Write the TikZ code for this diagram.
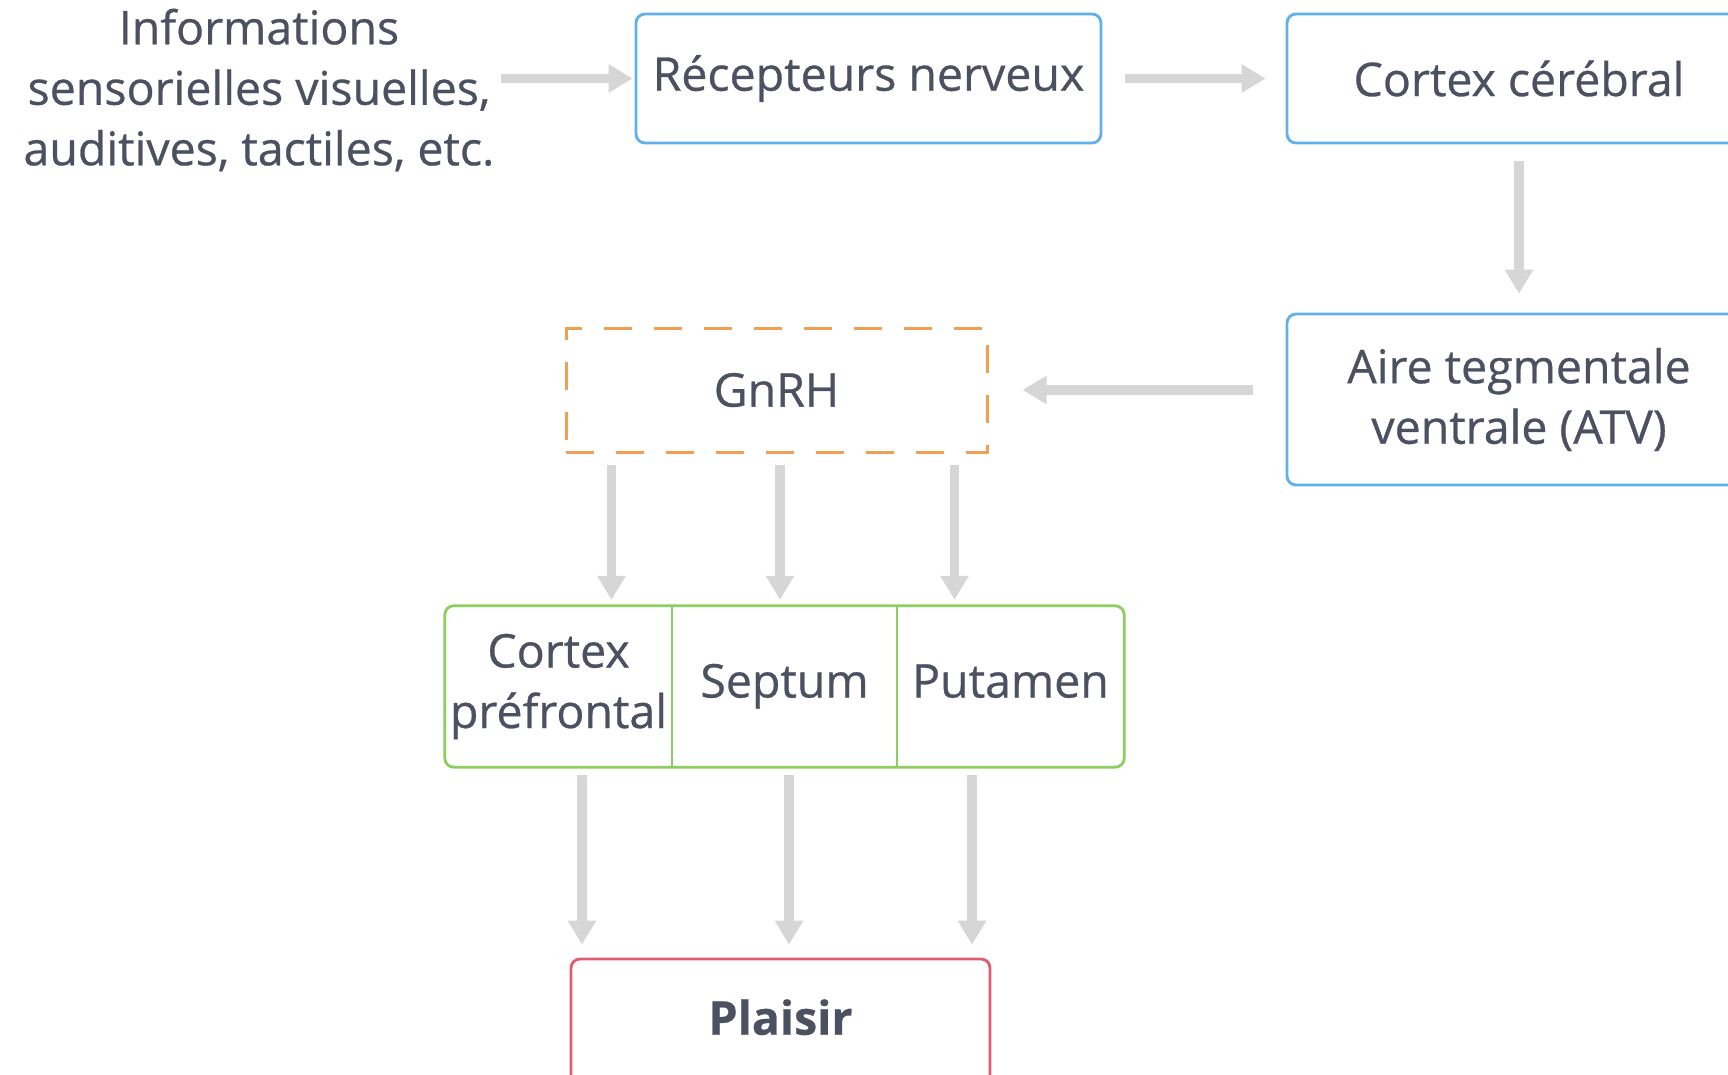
\documentclass[tikz,border=0pt]{standalone}
\usepackage{fontspec}
\setmainfont{Open Sans}[Ligatures=NoCommon, FakeBold=0.6]
\usetikzlibrary{arrows.meta}

\definecolor{inkgray}{RGB}{76,81,98}
\definecolor{arrowgray}{RGB}{214,214,214}
\definecolor{boxblue}{RGB}{96,176,236}
\definecolor{boxorange}{RGB}{240,160,84}
\definecolor{boxgreen}{RGB}{140,206,96}
\definecolor{boxred}{RGB}{222,92,112}

\begin{document}
\begin{tikzpicture}[
    x=1pt, y=1pt, yscale=-1, xscale=1,
    every node/.style={font=\fontsize{46.5}{60.5}\selectfont, text=inkgray, inner sep=0pt, align=center},
    stagebox/.style={draw, line width=2.8pt, rounded corners=9pt},
    flow/.style={draw=arrowgray, line width=9.5pt, -{Triangle[width=27pt,length=24pt]}}
]
\useasboundingbox (0,0) rectangle (1728,1075);

%==================== Top row ====================
\node (info) at (259,90) {Informations\\sensorielles visuelles,\\auditives, tactiles, etc.};
\node[stagebox, draw=boxblue, minimum width=465, minimum height=129] (recep) at (868.5,78.5) {R\'ecepteurs nerveux};
\node[stagebox, draw=boxblue, minimum width=464, minimum height=129] (cortex) at (1519,78.5) {Cortex c\'er\'ebral};

%==================== ATV and GnRH ====================
\node[stagebox, draw=boxblue, minimum width=464, minimum height=171] (atv) at (1519,399.5) {Aire tegmentale\\ventrale (ATV)};
\node[draw=boxorange, line width=3pt, dash pattern=on 28pt off 22pt, minimum width=421, minimum height=124] (gnrh) at (776.5,390) {GnRH};

%==================== Target areas ====================
\node[minimum width=227, minimum height=161] (pfc) at (558.5,686.5) {Cortex\\pr\'efrontal};
\node[minimum width=225, minimum height=161, text height=33pt, text depth=11pt] (septum) at (784.5,686.5) {Septum};
\node[minimum width=227, minimum height=161, text height=33pt, text depth=11pt] (putamen) at (1010.5,686.5) {Putamen};
\draw[boxgreen, line width=2.8pt, rounded corners=9pt] (pfc.north west) rectangle (putamen.south east);
\draw[boxgreen, line width=2pt] (pfc.north east) -- (pfc.south east);
\draw[boxgreen, line width=2pt] (septum.north east) -- (septum.south east);

%==================== Plaisir ====================
\node[stagebox, draw=boxred, minimum width=419, minimum height=130, font=\fontsize{46.5}{60}\selectfont\bfseries] (plaisir) at (780.5,1024) {\raisebox{14pt}{Plaisir}};

%==================== Arrows ====================
\draw[flow, shorten <=6pt, shorten >=2pt] (info.east |- recep.west) -- (recep.west);
\draw[flow, shorten <=23pt, shorten >=20pt] (recep.east) -- (cortex.west);
\draw[flow, shorten <=17pt, shorten >=19pt] (cortex.south) -- (atv.north);
\draw[flow, shorten <=33pt, shorten >=34pt] (atv.west |- gnrh.east) -- (gnrh.east);

\draw[flow, shorten <=11pt, shorten >=6pt] ([xshift=47pt]gnrh.south west) -- ([xshift=47pt]gnrh.south west |- pfc.north);
\draw[flow, shorten <=11pt, shorten >=6pt] ([xshift=3.5pt]gnrh.south) -- ([xshift=3.5pt]gnrh.south |- septum.north);
\draw[flow, shorten <=11pt, shorten >=6pt] ([xshift=-34pt]gnrh.south east) -- ([xshift=-34pt]gnrh.south east |- putamen.north);

\draw[flow, shorten <=8pt, shorten >=13pt] ([xshift=23.5pt]pfc.south) -- ([xshift=23.5pt]pfc.south |- plaisir.north);
\draw[flow, shorten <=8pt, shorten >=13pt] ([xshift=4.5pt]septum.south) -- ([xshift=4.5pt]septum.south |- plaisir.north);
\draw[flow, shorten <=8pt, shorten >=13pt] ([xshift=-38.5pt]putamen.south) -- ([xshift=-38.5pt]putamen.south |- plaisir.north);

\end{tikzpicture}
\end{document}
